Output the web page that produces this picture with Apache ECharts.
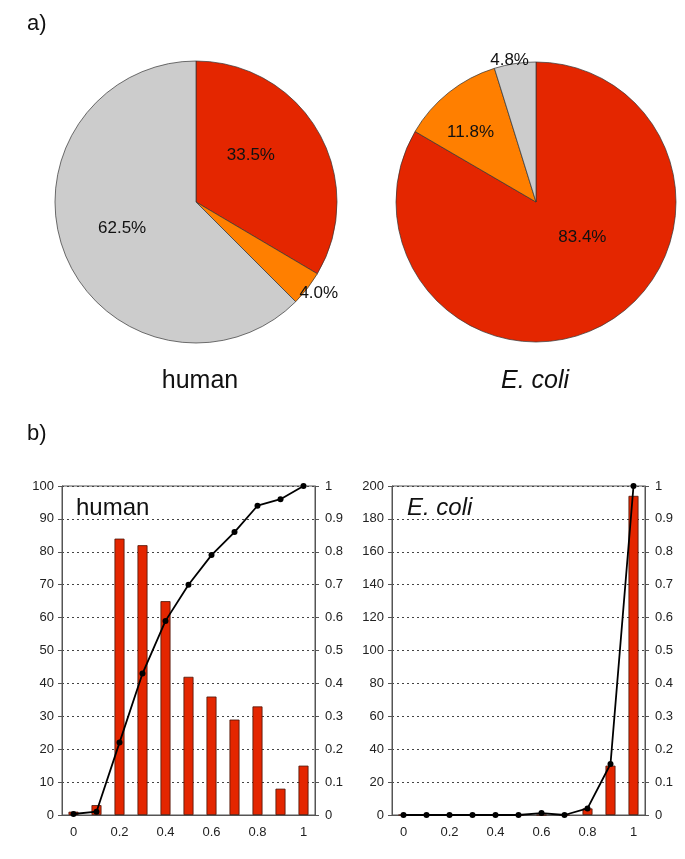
<!DOCTYPE html>
<html>
<head>
<meta charset="utf-8">
<script src="https://cdn.jsdelivr.net/npm/echarts@6/dist/echarts.min.js"></script>
<style>
html,body{margin:0;padding:0;background:#fff;}
#chart{width:685px;height:859px;}
</style>
</head>
<body>
<div id="chart"></div>
<script>
// ---- data ----
const pieSliceNames = ['red class', 'orange class', 'grey class'];
const humanPie = [33.5, 4.0, 62.5];
const ecoliPie = [83.4, 11.8, 4.8];

const binCategories = ['0', '0.1', '0.2', '0.3', '0.4', '0.5', '0.6', '0.7', '0.8', '0.9', '1'];
const humanCounts = [1, 3, 84, 82, 65, 42, 36, 29, 33, 8, 15];
const humanCumulative = [0.003, 0.01, 0.22, 0.43, 0.59, 0.70, 0.79, 0.86, 0.94, 0.96, 1.0];
const ecoliCounts = [0, 0, 0, 0, 0, 0, 0, 0, 4, 30, 194];
const ecoliCumulative = [0, 0, 0, 0, 0, 0, 0.006, 0, 0.02, 0.155, 1.0];

// ---- styling ----
const FONT = 'Liberation Sans, Arial, sans-serif';
const RED = '#e42600';
const ORANGE = '#ff7f00';
const GREY = '#cccccc';
const sliceColors = [RED, ORANGE, GREY];

// per-slice label nudges (layout only)
const humanLabelShift = [[-9, -10], [-8, 5], [-6, -2]];
const ecoliLabelShift = [[10, -28], [-20, -13], [14, -3]];

const chart = echarts.init(document.getElementById('chart'), null, {renderer: 'canvas'});

function pieData(values, outsideIdx, shifts) {
  return values.map((v, i) => {
    const d = {name: pieSliceNames[i], value: v, itemStyle: {color: sliceColors[i]}, label: {offset: shifts[i]}};
    if (outsideIdx.indexOf(i) >= 0) {
      d.label.position = 'outside';
      d.label.distanceToLabelLine = 0;
      d.labelLine = {show: false, length: 0, length2: 0};
    }
    return d;
  });
}

const pieLabel = {
  show: true,
  position: 'inside',
  fontFamily: FONT,
  fontSize: 17,
  color: '#111',
  formatter: p => p.value.toFixed(1) + '%'
};

function valueAxis(gridIndex, max, interval, side, margin) {
  return {
    type: 'value', gridIndex: gridIndex, position: side,
    min: 0, max: max, interval: interval,
    axisLine: {show: true, lineStyle: {color: '#555', width: 1}},
    axisTick: {show: true, length: 4, lineStyle: {color: '#555'}},
    axisLabel: {fontFamily: FONT, fontSize: 13, color: '#222', margin: margin},
    splitLine: {show: side === 'left', lineStyle: {color: '#444', type: [2, 3], width: 1}}
  };
}

function catAxis(gridIndex) {
  return {
    type: 'category', gridIndex: gridIndex, data: binCategories,
    boundaryGap: true,
    axisLine: {show: true, lineStyle: {color: '#555', width: 1}},
    axisTick: {show: false},
    axisLabel: {interval: 1, fontFamily: FONT, fontSize: 13, color: '#222', margin: 11}
  };
}

const barStyle = {color: RED, borderColor: '#4a1508', borderWidth: 0.8};
const lineStyle = {color: '#000', width: 1.8};

const option = {
  backgroundColor: '#fff',
  animation: false,
  title: [
    {text: 'a)', left: 22, top: 8, textStyle: {fontFamily: FONT, fontSize: 22, fontWeight: 'normal', color: '#111'}},
    {text: 'b)', left: 22, top: 418, textStyle: {fontFamily: FONT, fontSize: 22, fontWeight: 'normal', color: '#111'}},
    {text: 'human', left: 195, top: 364, textAlign: 'center', textStyle: {fontFamily: FONT, fontSize: 25, fontWeight: 'normal', color: '#111'}},
    {text: 'E. coli', left: 530, top: 364, textAlign: 'center', textStyle: {fontFamily: FONT, fontSize: 25, fontStyle: 'italic', fontWeight: 'normal', color: '#111'}},
    {text: 'human', left: 71, top: 491, textStyle: {fontFamily: FONT, fontSize: 24, fontWeight: 'normal', color: '#111'}},
    {text: 'E. coli', left: 402, top: 491, textStyle: {fontFamily: FONT, fontSize: 24, fontStyle: 'italic', fontWeight: 'normal', color: '#111'}}
  ],
  grid: [
    {left: 62, right: 370, top: 486, bottom: 44, show: true, borderColor: '#555', borderWidth: 1, backgroundColor: 'transparent'},
    {left: 392, right: 40, top: 486, bottom: 44, show: true, borderColor: '#555', borderWidth: 1, backgroundColor: 'transparent'}
  ],
  xAxis: [catAxis(0), catAxis(1)],
  yAxis: [
    valueAxis(0, 100, 10, 'left', 8),
    valueAxis(0, 1, 0.1, 'right', 10),
    valueAxis(1, 200, 20, 'left', 8),
    valueAxis(1, 1, 0.1, 'right', 10)
  ],
  series: [
    {
      type: 'pie', center: [196, 202], radius: [0, 141],
      startAngle: 90, clockwise: true,
      itemStyle: {borderColor: '#333', borderWidth: 0.7},
      label: pieLabel,
      labelLine: {show: false},
      data: pieData(humanPie, [1], humanLabelShift)
    },
    {
      type: 'pie', center: [536, 202], radius: [0, 140],
      startAngle: 90, clockwise: true,
      itemStyle: {borderColor: '#333', borderWidth: 0.7},
      label: pieLabel,
      labelLine: {show: false},
      data: pieData(ecoliPie, [2], ecoliLabelShift)
    },
    {type: 'bar', xAxisIndex: 0, yAxisIndex: 0, data: humanCounts, barWidth: 10, itemStyle: barStyle},
    {type: 'line', xAxisIndex: 0, yAxisIndex: 1, data: humanCumulative, symbol: 'circle', symbolSize: 6,
     itemStyle: {color: '#000'}, lineStyle: lineStyle},
    {type: 'bar', xAxisIndex: 1, yAxisIndex: 2, data: ecoliCounts, barWidth: 10, itemStyle: barStyle},
    {type: 'line', xAxisIndex: 1, yAxisIndex: 3, data: ecoliCumulative, symbol: 'circle', symbolSize: 6,
     itemStyle: {color: '#000'}, lineStyle: lineStyle}
  ]
};
chart.setOption(option);
</script>
</body>
</html>
